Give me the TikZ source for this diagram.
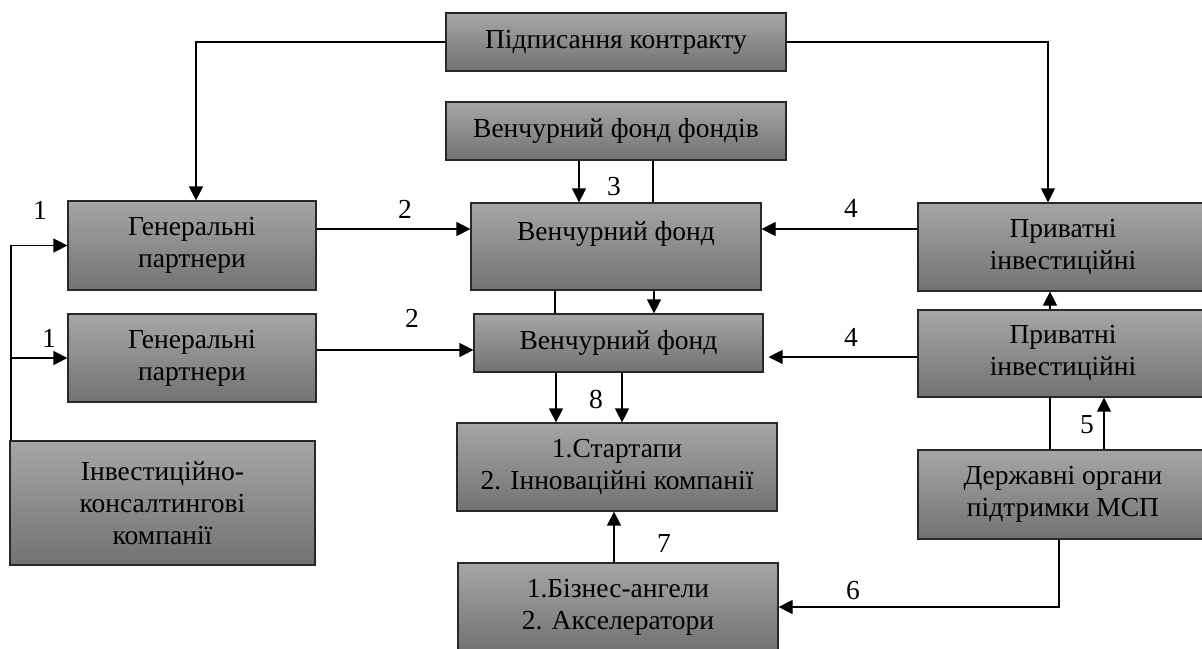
\documentclass[tikz,border=0pt]{standalone}
\usepackage{fontspec}
\setmainfont{Liberation Serif}
\usetikzlibrary{arrows.meta,calc}
\definecolor{boxtop}{RGB}{166,166,166}
\definecolor{boxbot}{RGB}{114,114,114}
\definecolor{boxline}{RGB}{40,40,40}

\begin{document}
\begin{tikzpicture}[x=1pt,y=-1pt,
    blk/.style={draw=boxline,line width=1.2pt,top color=boxtop,bottom color=boxbot,align=center,inner sep=0pt,font=\fontsize{27.5}{32}\selectfont},
    num/.style={inner sep=0pt,font=\fontsize{27.5}{32}\selectfont},
    arr/.style={-{Triangle[length=14pt,width=14pt]},line width=1.2pt},
    ln/.style={line width=1.2pt}]
  \useasboundingbox (0,0) rectangle (1202,648);
  \clip (0,0) rectangle (1202,648);

  % boxes
  \node[blk,minimum width=340pt,minimum height=58pt] (sc) at (616,42) {Підписання контракту};
  \node[blk,minimum width=340pt,minimum height=58pt] (fof) at (616,131) {Венчурний фонд фондів};
  \node[blk,minimum width=290pt,minimum height=87pt] (vf1) at (616,246.5) {Венчурний фонд\\\mbox{}};
  \node[blk,minimum width=289pt,minimum height=58pt] (vf2) at (618.5,343) {Венчурний фонд};
  \node[blk,minimum width=320pt,minimum height=88pt] (st) at (617,467) {1.Стартапи\\2. Інноваційні компанії};
  \node[blk,minimum width=320pt,minimum height=88pt] (ang) at (618,607) {1.Бізнес-ангели\\2. Акселератори};

  \node[blk,minimum width=248pt,minimum height=89pt] (gp1) at (192,245.5) {Генеральні\\партнери};
  \node[blk,minimum width=248pt,minimum height=88pt] (gp2) at (192,358) {Генеральні\\партнери};
  \node[blk,minimum width=305pt,minimum height=124pt] (ic) at (162.5,503) {Інвестиційно-\\консалтингові\\компанії};

  \node[blk,minimum width=290pt,minimum height=88pt] (pr1) at (1063,247) {Приватні\\інвестиційні};
  \node[blk,minimum width=290pt,minimum height=87pt] (pr2) at (1063,353.5) {Приватні\\інвестиційні};
  \node[blk,minimum width=290pt,minimum height=89pt] (gov) at (1063,494.5) {Державні органи\\підтримки МСП};

  \coordinate (r1) at (0,229);
  \coordinate (r2) at (0,350);
  \coordinate (r3) at (0,357);
  \coordinate (bus) at (11,0);

  % connectors
  \draw[arr] (sc.west) -| ([xshift=4pt]gp1.north);
  \draw[arr] (sc.east) -| ([xshift=-15pt]pr1.north);
  \draw[arr] ([xshift=-37pt]fof.south) -- ([xshift=-37pt]fof.south |- vf1.north);
  \draw[ln] ([xshift=37pt]fof.south) -- ([xshift=37pt]fof.south |- vf1.north);
  \draw[arr] (gp1.east |- r1) -- (vf1.west |- r1);
  \draw[arr] (pr1.west |- r1) -- (vf1.east |- r1);
  \draw[arr] ([xshift=38pt]vf1.south) -- ([xshift=38pt]vf1.south |- vf2.north);
  \draw[ln] ([xshift=-61pt]vf1.south) -- ([xshift=-61pt]vf1.south |- vf2.north);
  \draw[arr] (gp2.east |- r2) -- (vf2.west |- r2);
  \draw[arr,shorten >=5pt] (pr2.west |- r3) -- (vf2.east |- r3);
  \draw[arr] ([xshift=-62.5pt]vf2.south) -- ([xshift=-62.5pt]vf2.south |- st.north);
  \draw[arr] ([xshift=3.5pt]vf2.south) -- ([xshift=3.5pt]vf2.south |- st.north);
  \draw[arr] ([xshift=-4pt]ang.north) -- ([xshift=-4pt]ang.north |- st.south);
  \draw[arr] (bus |- ic.north) |- (gp1.west);
  \draw[arr] (bus |- gp2.west) -- (gp2.west);
  \draw[arr] ([xshift=-13pt]pr2.north) -- ([xshift=-13pt]pr2.north |- pr1.south);
  \draw[ln] ([xshift=-13pt]gov.north) -- ([xshift=-13pt]gov.north |- pr2.south);
  \draw[arr] ([xshift=41pt]gov.north) -- ([xshift=41pt]gov.north |- pr2.south);
  \draw[arr] ([xshift=-4pt]gov.south) |- (ang.east);

  % numbers
  \node[num] (n1a) at (40,210) {1};
  \node[num] (n1b) at (49,338) {1};
  \node[num] (n2a) at (405,209) {2};
  \node[num] (n2b) at (412,318) {2};
  \node[num] (n3) at (614,187) {3};
  \node[num] (n4a) at (851,208) {4};
  \node[num] (n4b) at (851,337) {4};
  \node[num] (n5) at (1087,425) {5};
  \node[num] (n6) at (853,591) {6};
  \node[num] (n7) at (664,543) {7};
  \node[num] (n8) at (596,399) {8};
\end{tikzpicture}
\end{document}
